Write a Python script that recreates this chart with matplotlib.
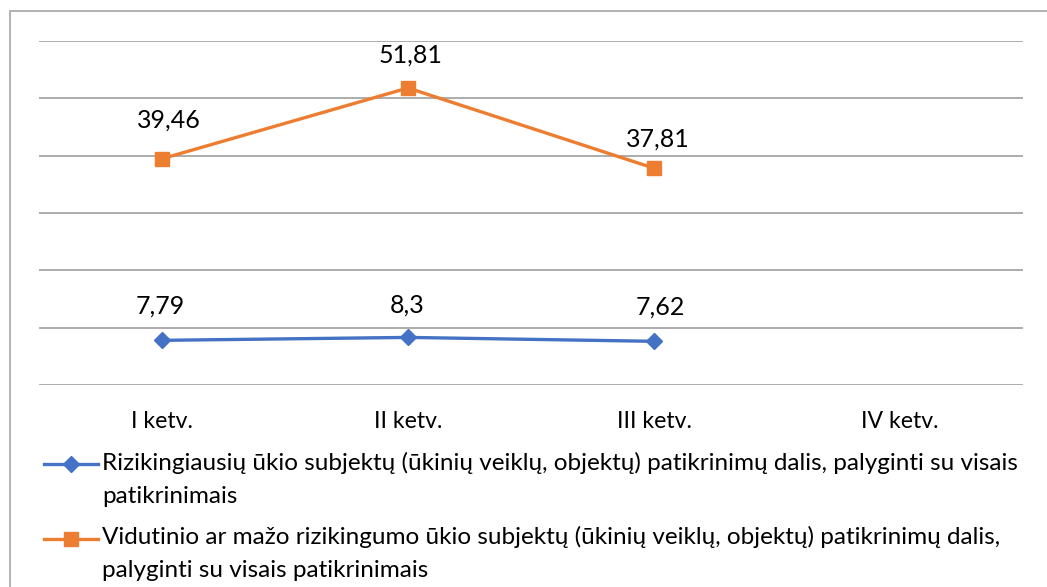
import matplotlib
matplotlib.use("Agg")
import matplotlib.pyplot as plt
from matplotlib.lines import Line2D
from matplotlib.patches import Rectangle

categories = ["I ketv.", "II ketv.", "III ketv.", "IV ketv."]
series_high = [7.79, 8.3, 7.62]
series_mid = [39.46, 51.81, 37.81]
labels_high = ["7,79", "8,3", "7,62"]
labels_mid = ["39,46", "51,81", "37,81"]
legend_lines_high = ["Rizikingiausių ūkio subjektų (ūkinių veiklų, objektų) patikrinimų dalis, palyginti su visais",
                     "patikrinimais"]
legend_lines_mid = ["Vidutinio ar mažo rizikingumo ūkio subjektų (ūkinių veiklų, objektų) patikrinimų dalis,",
                    "palyginti su visais patikrinimais"]

BLUE = "#4472C4"
ORANGE = "#ED7D31"
GRID = "#A6A6A6"
plt.rcParams["font.family"] = ["Lato", "DejaVu Sans"]

W, H = 1047, 587
fig = plt.figure(figsize=(W / 100, H / 100), dpi=100)
fig.patch.set_facecolor("white")

def fx(px):
    return px / W

def fy(py):
    return 1 - py / H

# chart border
fig.patches.append(Rectangle((fx(10), -0.1), 1.2, fy(11) + 0.1, transform=fig.transFigure,
                             fill=False, edgecolor="#A6A6A6", linewidth=1.2))

ax = fig.add_axes([fx(39), fy(385), (1023 - 39) / W, (385 - 41) / H])
ax.set_xlim(-0.5, 3.5)
ax.set_ylim(0, 60)
ax.set_yticks(range(0, 61, 10))
ax.yaxis.grid(True, color=GRID, linewidth=1.3)
ax.set_axisbelow(True)
for s in ax.spines.values():
    s.set_visible(False)
ax.tick_params(axis="y", left=False, labelleft=False)
ax.tick_params(axis="x", bottom=False, pad=15, labelsize=16.6)
ax.set_xticks(range(len(categories)))
ax.set_xticklabels(categories)

LW = 2.4
x_high = list(range(len(series_high)))
x_mid = list(range(len(series_mid)))
ax.plot(x_high, series_high, color=BLUE, linewidth=LW, marker="D", markersize=8,
        solid_capstyle="round", zorder=3)
ax.plot(x_mid, series_mid, color=ORANGE, linewidth=LW, marker="s", markersize=10,
        solid_capstyle="round", zorder=3)

# label offsets in pixels (dx, dy)
off_high = [(-2, 34), (-1, 32), (6, 34)]
off_mid = [(7, 39), (2, 33), (4, 29)]
for xi, v, t, (dx, dy) in zip(x_high, series_high, labels_high, off_high):
    ax.annotate(t, (xi, v), xytext=(dx * 0.72, dy * 0.72), textcoords="offset points",
                ha="center", va="center", fontsize=18, color="black")
for xi, v, t, (dx, dy) in zip(x_mid, series_mid, labels_mid, off_mid):
    ax.annotate(t, (xi, v), xytext=(dx * 0.72, dy * 0.72), textcoords="offset points",
                ha="center", va="center", fontsize=18, color="black")

# legend (drawn in figure coordinates)
LEG_FS = 17.5
for color, marker, ms, hy, lines, bases in [
    (BLUE, "D", 8, 464, legend_lines_high, [470, 503]),
    (ORANGE, "s", 10, 539, legend_lines_mid, [544, 577]),
]:
    fig.add_artist(Line2D([fx(44), fx(98)], [fy(hy), fy(hy)], color=color, linewidth=LW,
                          transform=fig.transFigure))
    fig.add_artist(Line2D([fx(71)], [fy(hy)], color=color, marker=marker, markersize=ms,
                          transform=fig.transFigure))
    for txt, b in zip(lines, bases):
        fig.text(fx(102), fy(b), txt, fontsize=LEG_FS, ha="left", va="baseline", color="black")

fig.savefig("out.png", dpi=100, facecolor="white")
